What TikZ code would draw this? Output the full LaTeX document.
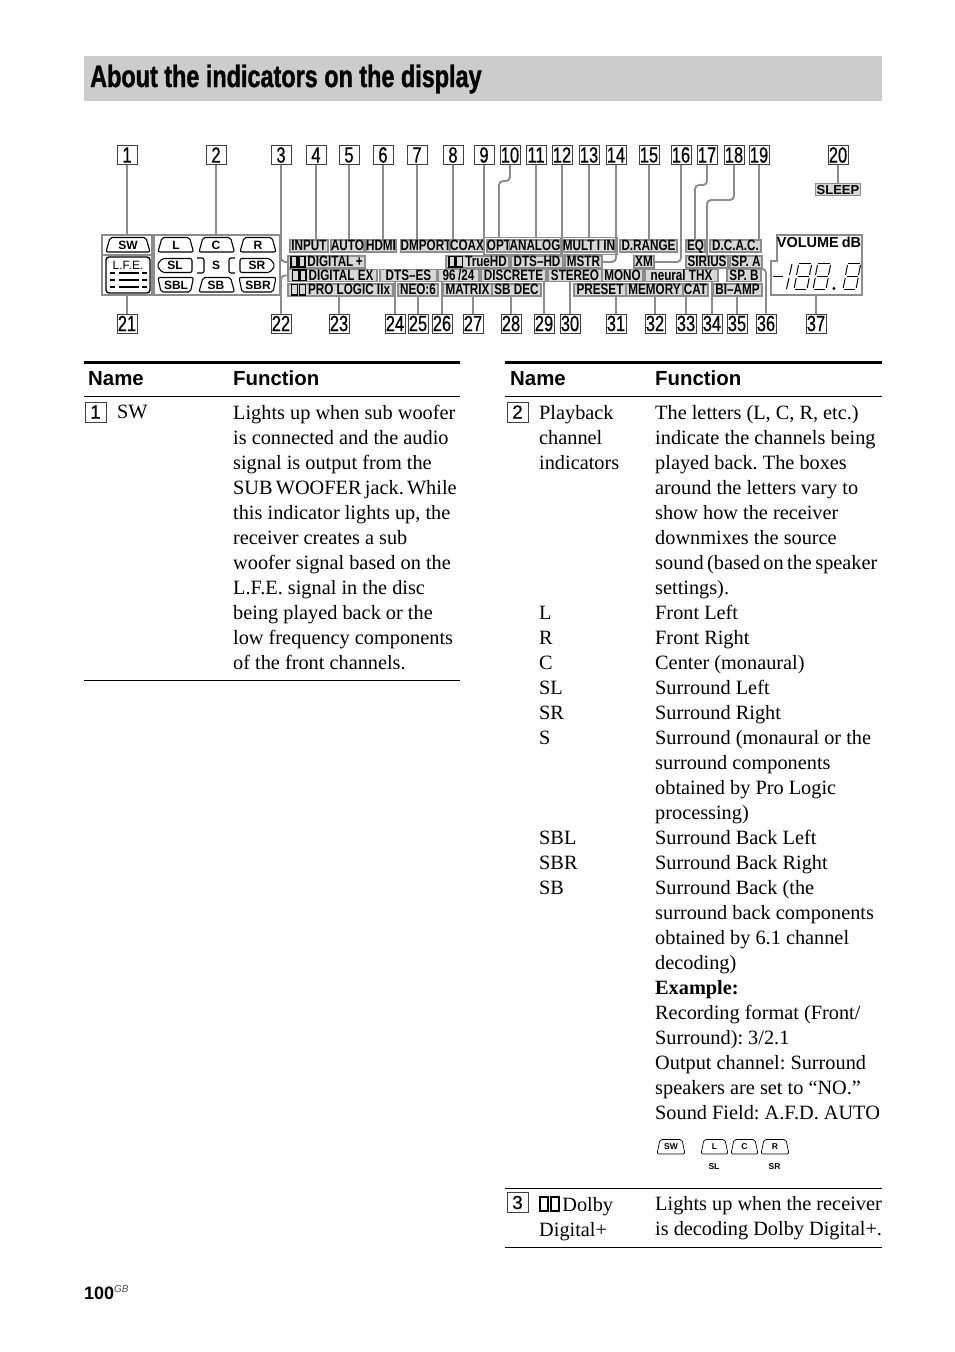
\documentclass[tikz,border=0pt]{standalone}
\usepackage{fontspec}
\setmainfont{Liberation Serif}
\setsansfont{Liberation Sans}
\newfontfamily\titlefont[FakeStretch=0.755,FakeBold=1.2]{Liberation Sans}
\newfontfamily\numfont[FakeStretch=0.75,FakeBold=0.5]{Liberation Sans}
\newfontfamily\rowfont[FakeBold=0.4]{Liberation Sans}
\newfontfamily\segfont[FakeStretch=0.78]{Liberation Sans}
\usetikzlibrary{
  positioning,
  fit
}
\definecolor{titlegray}{RGB}{204, 204, 204}
\definecolor{leadgray}{RGB}{140, 140, 140}
\definecolor{seggray}{RGB}{215, 215, 215}
% the double-D mark of the display and the table
\newcommand{\ddmark}{\tikz[baseline=0pt,x=1em,y=1em]{\draw[line width=.1em] (0,0) rectangle (.4,.68); \draw[line width=.1em] (.52,0) rectangle (.92,.68);}\kern.12em}
% speaker outline: x0, y0, x1, y1, top inset, bottom inset
\newcommand{\spkr}[6]{\draw[spk] ({#1+#6},#4) -- ({#1+#5},#2) -- ({#3-#5},#2) -- ({#3-#6},#4) -- cycle;}

\begin{document}
\frenchspacing
\begin{tikzpicture}[
  x=1pt, y=-1pt,
  numbox/.style={rectangle, draw=black!75, line width=0.9pt, minimum width=20pt, minimum height=19pt, inner sep=0pt, font=\numfont\fontsize{22}{22}\selectfont},
  rowbox/.style={rectangle, draw=black!75, line width=1pt, minimum width=21pt, minimum height=20pt, inner sep=0pt, font=\rowfont\fontsize{19}{19}\selectfont},
  seg/.style={rectangle, draw=leadgray, fill=seggray, line width=1.5pt, inner sep=0pt, text height=10.8pt, text depth=1.2pt, font=\segfont\bfseries\fontsize{15}{15}\selectfont},
  panel/.style={rectangle, draw=leadgray, line width=2pt, inner sep=0pt},
  spk/.style={draw=black, line width=1.1pt, rounded corners=2pt},
  spktext/.style={inner sep=0pt, font=\sffamily\bfseries\fontsize{12}{12}\selectfont},
  lead/.style={draw=leadgray, line width=1.9pt, rounded corners=4pt},
  head/.style={anchor=base west, inner sep=0pt, font=\sffamily\bfseries\fontsize{20.4}{20.4}\selectfont},
  body/.style={anchor=north west, inner sep=0pt, align=left, font=\fontsize{20.3}{25}\selectfont},
  hrule/.style={draw=black, line width=1pt},
  hthick/.style={draw=black, line width=3.4pt}
]
\useasboundingbox (0,0) rectangle (954,1352);

% Title bar
\node[rectangle, fill=titlegray, minimum width=798pt, minimum height=45pt, inner sep=0pt] (bar) at (483,78.5) {};
\node[anchor=west, inner sep=0pt, font=\titlefont\bfseries\fontsize{31}{31}\selectfont] (title) at (90,79) {About the indicators on the display};

% Number boxes above and below the display
\foreach \i/\x in {1/127,2/216,3/281,4/316,5/349,6/383,7/417,8/453,9/484,10/510,11/536,12/562,13/589,14/616,15/649,16/681,17/707,18/734,19/759,20/838}
  \node[numbox] (n\i) at (\x,155) {\i};
\foreach \i/\x in {21/127,22/281,23/339,24/395,25/418,26/442,27/473,28/511,29/544,30/570,31/616,32/655,33/686,34/712,35/737,36/766,37/816}
  \node[numbox] (n\i) at (\x,323.5) {\i};

% Left panels of the display
\node[panel, minimum width=50pt, minimum height=60pt] (psw) at (127,265) {};
\node[panel, minimum width=126pt, minimum height=60pt] (pspk) at (217,265) {};
\draw[leadgray, line width=2pt] (psw.west |- 0,254.5) -- (psw.east |- 0,254.5);
\spkr{106}{237.5}{150}{252}{4}{0}
\node[spktext] (sw) at (128,245) {SW};
\node[rectangle, draw=black, line width=1.4pt, rounded corners=3pt, minimum width=44pt, minimum height=36pt] (lfe) at (128,275) {};
\node[inner sep=0pt, font=\sffamily\fontsize{12}{12}\selectfont] (lfetxt) at (128,265) {L.F.E.};
\foreach \y in {273,280,287} {
  \draw[line width=2.2pt] (119,\y) -- (139,\y);
  \draw[line width=2.2pt] (110,\y) -- (115,\y);
  \draw[line width=2.2pt] (142,\y) -- (147,\y);
}
\spkr{158}{237.5}{193.5}{252}{4}{0}
\spkr{199}{237.5}{234.5}{252}{4}{0}
\spkr{240}{237.5}{276}{252}{4}{0}
\spkr{158}{277.5}{193.5}{292}{0}{3}
\spkr{199}{277.5}{234.5}{292}{4}{0}
\spkr{239}{277.5}{276}{292}{0}{3}
\draw[spk] (157,265.5) -- (162,258.5) -- (192,258.5) -- (192,272.5) -- (162,272.5) -- cycle;
\draw[spk] (275,265.5) -- (270,258.5) -- (240,258.5) -- (240,272.5) -- (270,272.5) -- cycle;
\draw[spk] (197,258) -- (204,258) -- (204,273) -- (197,273);
\draw[spk] (235,258) -- (229,258) -- (229,273) -- (235,273);
\foreach \nm/\x/\y/\t in {tl/176/245/L,tc/216/245/C,tr/258/245/R,tsl/175/265.5/SL,ts/216/265.5/S,tsr/257/265.5/SR,tsbl/176/285/SBL,tsb/216/285/SB,tsbr/258/285/SBR}
  \node[spktext] (\nm) at (\x,\y) {\t};

% Middle block of the display, row by row
\foreach \nm/\xa/\xb/\t in {sinput/290/328/INPUT,sauto/331/364/AUTO,shdmi/366/396/HDMI,sdmport/402/450/DMPORT,scoax/450/484/COAX,sopt/487/511/OPT,sanalog/511/559/ANALOG,smulti/566/612/MULT\,I IN,sdrange/620/677/D.RANGE,seq/686/705/EQ,sdcac/710/761/D.C.A.C.}
  \node[seg, minimum width={\xb-\xa}] (\nm) at ({(\xa+\xb)/2},246) {\t};
\foreach \nm/\xa/\xb/\t in {sdigplus/288/365/\ddmark DIGITAL\,+,strue/446/509/\ddmark TrueHD,sdtshd/511/563/DTS–HD,smstr/565/602/MSTR,sxm/634/654/XM,ssirius/686/728/SIRIUS,sspa/730/762/SP. A}
  \node[seg, minimum width={\xb-\xa}] (\nm) at ({(\xa+\xb)/2},262) {\t};
\foreach \nm/\xa/\xb/\t in {sdigex/288/377/\ddmark DIGITAL EX,sdtses/380/437/DTS–ES,snine/438/479/{96\,/24},sdisc/481/546/DISCRETE,sstereo/548/602/STEREO,smono/602/643/MONO,sneural/645/718/neural THX,sspb/727/761/SP. B}
  \node[seg, minimum width={\xb-\xa}] (\nm) at ({(\xa+\xb)/2},275.5) {\t};
\foreach \nm/\xa/\xb/\t in {spro/288/393/\ddmark PRO LOGIC IIx,sneo/398/438/NEO:6,smatrix/443/492/MATRIX,ssbdec/492/541/SB DEC,spreset/574/626/PRESET,smemory/626/683/MEMORY,scat/683/708/CAT,sbiamp/713/762/BI–AMP}
  \node[seg, minimum width={\xb-\xa}] (\nm) at ({(\xa+\xb)/2},290) {\t};
\node[rectangle, draw=leadgray, line width=0.8pt, inner sep=1.5pt, fit=(sopt)(sanalog)] (boxopt) {};
\node[rectangle, draw=leadgray, line width=0.8pt, inner sep=1.5pt, fit=(smulti)] (boxmulti) {};

% Sleep and volume
\node[seg, minimum width=45pt, font=\sffamily\bfseries\fontsize{13}{13}\selectfont] (ssleep) at (838,189.5) {SLEEP};
\draw[leadgray, line width=2pt] (777,234.5) -- (862,234.5) -- (862,295) -- (771,295) -- (771,261) -- (777,261) -- cycle;
\coordinate (pvol) at (816,295);
\node[inner sep=0pt, font=\sffamily\bfseries\fontsize{14.5}{14.5}\selectfont] (voltxt) at (819,242) {VOLUME\hspace{3pt}dB};
\draw[line width=1pt] (773,276) -- (783,276);
\draw[line width=1pt] (792,264) -- (789.5,275) (789,278) -- (786.5,289);
\foreach \d in {795,814,844} {
  \begin{scope}[shift={(\d,0)}]
  \draw[line width=1pt] (4,263.5) -- (16,263.5) (2.5,276.5) -- (13.5,276.5) (0,289.5) -- (11,289.5);
  \draw[line width=1pt] (3.5,265) -- (1.5,275) (1.2,278) -- (-0.8,288);
  \draw[line width=1pt] (16.5,265) -- (14.5,275) (14.2,278) -- (12.2,288);
  \end{scope}
}
\fill (834,288.5) circle (1.7pt);

% Straight leads to the display
\foreach \i/\t in {1/psw,2/pspk,4/sinput,5/sauto,6/shdmi,7/sdmport,8/scoax,9/strue,11/boxopt,12/sdtshd,13/boxmulti,15/sdrange,19/sdcac,20/ssleep}
  \draw[lead] (n\i.south) -- (n\i.south |- \t.north);
\foreach \i/\t in {21/psw,23/spro,24/sdtses,25/sneo,26/snine,27/smatrix,28/ssbdec,29/sdisc,30/sstereo,31/spreset,32/smemory,33/scat,34/sneural,35/sbiamp,37/pvol}
  \draw[lead] (n\i.north) -- (n\i.north |- \t.south);

% Leads with a bend
\draw[lead] (n3.south) |- (sdigplus.west);
\draw[lead] (n22.north) |- (sdigex.west);
\draw[lead] (n14.south) |- (smstr.east);
\draw[lead] (n16.south) |- (sxm.east);
\draw[lead] (n36.north) |- (sspa.south east);
\draw[lead] (n10.south) -- (n10.south |- 0,181) -| (boxopt.north -| 499,0);
\draw[lead] (n17.south) -- (n17.south |- 0,185) -| (seq.north -| 695,0);
\draw[lead] (n18.south) -- (n18.south |- 0,200) -| (ssirius.north -| 707,0);

% Left table
\draw[hthick] (84,362.5) -- (460,362.5);
\draw[hrule] (84,396.5) -- (460,396.5);
\draw[hrule] (84,680.5) -- (460,680.5);
\node[head] (hname1) at (88,385) {Name};
\node[head] (hfunc1) at (233,385) {Function};
\node[rowbox] (r1) at (95.5,412) {1};
\node[body] (name1) at (117,405) {SW};
\node[body] (text1) at (233,405) {Lights up when sub woofer\\is connected and the audio\\signal is output from the\\{\spaceskip=3.2pt SUB WOOFER\,jack. While}\\this indicator lights up, the\\receiver creates a sub\\woofer signal based on the\\L.F.E. signal in the disc\\being played back or the\\low frequency components\\of the front channels.};

% Right table
\draw[hthick] (505,362.5) -- (882,362.5);
\draw[hrule] (505,396.5) -- (882,396.5);
\draw[hrule] (505,1188.5) -- (882,1188.5);
\draw[hrule] (505,1247.5) -- (882,1247.5);
\node[head] (hname2) at (510,385) {Name};
\node[head] (hfunc2) at (655,385) {Function};
\node[rowbox] (r2) at (517.5,412) {2};
\node[body] (name2) at (539,405.5) {Playback\\channel\\indicators\\[125pt]L\\R\\C\\SL\\SR\\S\\[75pt]SBL\\SBR\\SB};
\node[body] (text2) at (655,405.5) {The letters (L, C, R, etc.)\\indicate the channels being\\played back. The boxes\\around the letters vary to\\show how the receiver\\downmixes the source\\{\spaceskip=3.4pt sound (based on the speaker}\\settings).\\Front Left\\Front Right\\Center (monaural)\\Surround Left\\Surround Right\\Surround (monaural or the\\surround components\\obtained by Pro Logic\\processing)\\Surround Back Left\\Surround Back Right\\Surround Back (the\\surround back components\\obtained by 6.1 channel\\decoding)\\\textbf{Example:}\\Recording format (Front/\\Surround): 3/2.1\\Output channel: Surround\\speakers are set to “NO.”\\Sound Field: A.F.D. AUTO};

% Small indicator picture in the table
\begin{scope}[spk/.append style={line width=0.7pt}]
\spkr{657}{1139.5}{685}{1154}{3}{0}
\spkr{701}{1139.5}{728}{1154}{3}{0}
\spkr{731}{1139.5}{758}{1154}{3}{0}
\spkr{761}{1139.5}{789}{1154}{3}{0}
\end{scope}
\foreach \nm/\x/\y/\t in {isw/671/1147/SW,il/714.5/1147/L,ic/744.5/1147/C,ir/775/1147/R,isl/714/1167/SL,isr/774.5/1167/SR}
  \node[inner sep=0pt, font=\sffamily\bfseries\fontsize{8.5}{8.5}\selectfont] (\nm) at (\x,\y) {\t};

% Row 3
\node[rowbox] (r3) at (517.5,1202.5) {3};
\node[body] (name3) at (539,1196) {\ddmark Dolby\\Digital+};
\node[body] (text3) at (655,1196.5) {Lights up when the receiver\\is decoding Dolby Digital+.};

% Page number
\node[anchor=base west, inner sep=0pt, font=\sffamily\bfseries\fontsize{18}{18}\selectfont] (page) at (84,1299.5) {100};
\node[anchor=base west, inner sep=0pt, font=\sffamily\itshape\fontsize{10}{10}\selectfont, text=black!70] (pagegb) at (114,1292.5) {GB};

\end{tikzpicture}
\end{document}
